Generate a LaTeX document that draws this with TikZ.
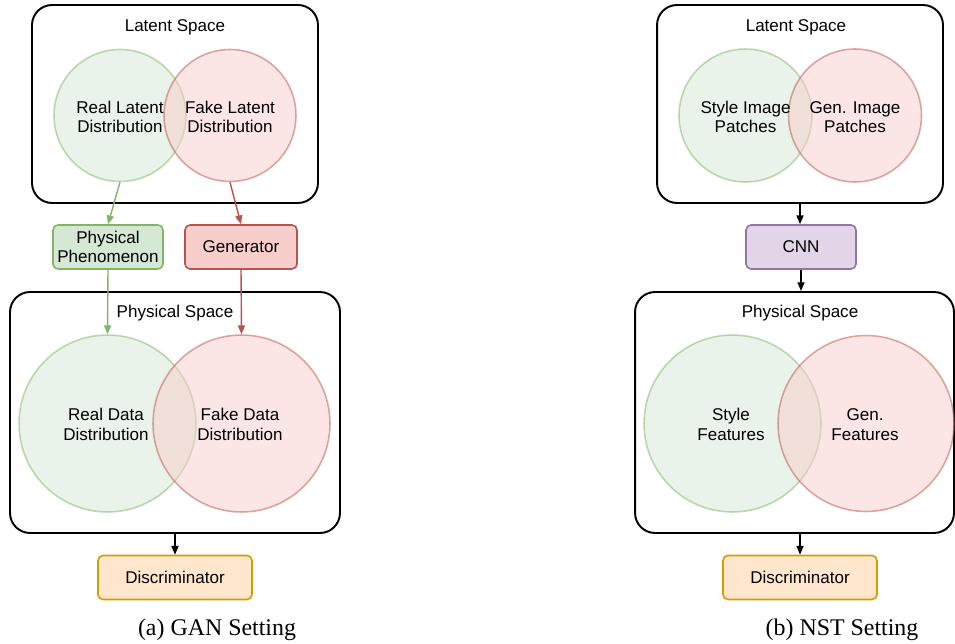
\documentclass[tikz,border=0pt]{standalone}
\usepackage{fontspec}
\setmainfont{Liberation Serif}
\setsansfont{Liberation Sans}
\usetikzlibrary{arrows.meta}

\definecolor{grfill}{HTML}{D5E8D4}
\definecolor{grline}{HTML}{82B366}
\definecolor{rdfill}{HTML}{F8CECC}
\definecolor{rdline}{HTML}{B85450}
\definecolor{ppfill}{HTML}{E1D5E7}
\definecolor{ppline}{HTML}{9673A6}
\definecolor{orfill}{HTML}{FFE6CC}
\definecolor{orline}{HTML}{D79B00}

\tikzset{
    lbl/.style={font=\sffamily\fontsize{9.7}{11.2}\selectfont, align=center, inner sep=0pt},
    spacebox/.style={draw=black, line width=1.1pt, rounded corners=0.4cm, minimum width=#1},
    smallbox/.style={lbl, rounded corners=0.1cm, line width=0.9pt, minimum height=0.88cm, inner sep=2pt},
    blob/.style={circle, line width=0.9pt, fill opacity=0.5, draw opacity=0.5, minimum size=#1, inner sep=0pt},
    gblob/.style={blob=#1, draw=grline, fill=grfill},
    rblob/.style={blob=#1, draw=rdline, fill=rdfill},
    arr/.style={-{Triangle[length=5pt,width=4pt]}, line width=0.8pt},
    captext/.style={font=\fontsize{13.6}{15}\selectfont}
}

\begin{document}
\begin{tikzpicture}[x=0.02cm, y=-0.02cm]
    \useasboundingbox (0,0) rectangle (955,644);

    %GAN izq: espacio latente
    \node[spacebox=5.72cm, minimum height=3.96cm] (latL) at (175,104) {};
    \node[lbl] (latLt) at (175,27) {Latent Space};
    \node[gblob=2.64cm] (rlat) at (120,115.5) {};
    \node[rblob=2.64cm] (flat) at (230,115.5) {};
    \node[lbl] (rlatT) at (120,117) {Real Latent\\Distribution};
    \node[lbl] (flatT) at (230,117) {Fake Latent\\Distribution};

    %Cajas del medio
    \node[smallbox, draw=grline, fill=grfill, minimum width=2.2cm] (phen) at (108,247) {Physical\\Phenomenon};
    \node[smallbox, draw=rdline, fill=rdfill, minimum width=2.24cm] (gen) at (241,247) {Generator};

    %GAN izq: espacio fisico
    \node[spacebox=6.6cm, minimum height=4.82cm] (physL) at (175,412.5) {};
    \node[lbl] (physLt) at (175,313) {Physical Space};
    \node[gblob=3.54cm] (rdat) at (107.5,423.5) {};
    \node[rblob=3.54cm] (fdat) at (241.5,423.5) {};
    \node[lbl] (rdatT) at (106,424.5) {Real Data\\Distribution};
    \node[lbl] (fdatT) at (240,424.5) {Fake Data\\Distribution};

    \node[smallbox, draw=orline, fill=orfill, minimum width=3.08cm] (discL) at (175,577.5) {Discriminator};
    \node[captext] (capL) at (217,630) {(a) GAN Setting};

    %Flechas izq
    \draw[arr, grline] (rlat.south) -- (phen.north);
    \draw[arr, rdline] (flat.south) -- (gen.north);
    \draw[arr, grline] (phen.south) -- (rdat.north);
    \draw[arr, rdline] (gen.south) -- (fdat.north);
    \draw[arr] (physL.south) -- (discL.north);

    %NST der: espacio latente
    \node[spacebox=5.72cm, minimum height=3.96cm] (latR) at (800,104) {};
    \node[lbl] (latRt) at (796,27) {Latent Space};
    \node[gblob=2.66cm] (spat) at (745.5,115.5) {};
    \node[rblob=2.66cm] (gpat) at (855,115.5) {};
    \node[lbl] (spatT) at (745.5,117) {Style Image\\Patches};
    \node[lbl] (gpatT) at (855,117) {Gen. Image\\Patches};

    \node[smallbox, draw=ppline, fill=ppfill, minimum width=2.2cm] (cnn) at (801,247) {CNN};

    %NST der: espacio fisico
    \node[spacebox=6.38cm, minimum height=4.82cm] (physR) at (794.5,412.5) {};
    \node[lbl] (physRt) at (800,313) {Physical Space};
    \node[gblob=3.54cm] (sfeat) at (732.5,423.5) {};
    \node[rblob=3.52cm] (gfeat) at (866,423.5) {};
    \node[lbl] (sfeatT) at (731,424.5) {Style\\Features};
    \node[lbl] (gfeatT) at (865,424.5) {Gen.\\Features};

    \node[smallbox, draw=orline, fill=orfill, minimum width=3.08cm] (discR) at (800,577.5) {Discriminator};
    \node[captext] (capR) at (842,630) {(b) NST Setting};

    %Flechas der
    \draw[arr] (latR.south) -- (cnn.north -| latR.south);
    \draw[arr] (cnn.south) -- (cnn.south |- physR.north);
    \draw[arr] (discR.north |- physR.south) -- (discR.north);
\end{tikzpicture}
\end{document}
